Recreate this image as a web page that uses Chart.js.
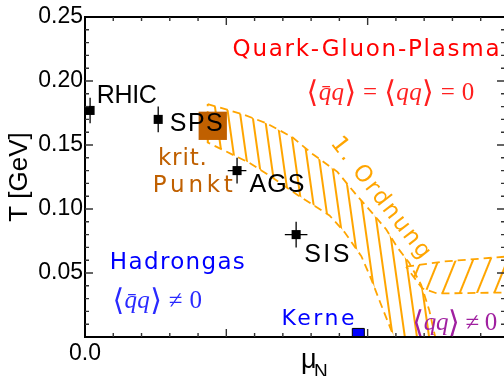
<!DOCTYPE html>
<html><head><meta charset="utf-8">
<script src="https://cdn.jsdelivr.net/npm/chart.js@4.4.1/dist/chart.umd.min.js"></script>
<style>
html,body{margin:0;padding:0;overflow:hidden;background:#fff;width:504px;height:376px}
#wrap{width:508px;height:376px}
</style>
</head><body><div id="wrap"><canvas id="c" width="508" height="376"></canvas></div>
<script>
// ---------- data (mu_N in GeV, T in GeV) ----------
const experiments   = ['RHIC', 'SPS', 'AGS', 'SIS'];
const expMu         = [0.018, 0.259, 0.538, 0.747];
const expT          = [0.177, 0.170, 0.130, 0.080];
const expMuErr      = [0.000, 0.000, 0.033, 0.040];
const expTErr       = [0.010, 0.010, 0.010, 0.010];
const critMu        = [0.452];
const critT         = [0.165];
const nucleiMu      = [0.967];
const nucleiT       = [0.002];
// first-order transition band (closed outline)
const firstOrderMu  = [0.434,0.558,0.642,0.734,0.805,0.893,0.960,1.016,1.066,1.105,1.147,1.189,1.218,1.239,1.094,1.084,1.048,1.013,0.978,0.918,0.865,0.752,0.660,0.582,0.434,0.434];
const firstOrderT   = [0.182,0.174,0.167,0.156,0.143,0.129,0.111,0.097,0.084,0.070,0.058,0.041,0.021,0.000,0.000,0.005,0.025,0.045,0.063,0.082,0.095,0.111,0.125,0.136,0.152,0.182];
// colour-superconducting transition band (closed outline)
const colorSupMu    = [1.136,1.271,1.560,1.560,1.246,1.193,1.136];
const colorSupT     = [0.055,0.059,0.064,0.035,0.034,0.038,0.055];
// axis ticks
const yTickValues   = [0.05, 0.10, 0.15, 0.20, 0.25];
const yTickLabels   = ['0.05', '0.10', '0.15', '0.20', '0.25'];
const xTickValues   = [0.0];
const xTickLabels   = ['0.0'];

const pts = (xs, ys) => xs.map((x, i) => ({x, y: ys[i]}));

const canvas = document.getElementById('c');
const ctx0 = canvas.getContext('2d');
function hatch(spacing, angle, color, lw) {
  const t = document.createElement('canvas');
  t.width = spacing; t.height = spacing;
  const g = t.getContext('2d');
  g.strokeStyle = color; g.lineWidth = lw;
  g.beginPath(); g.moveTo(spacing / 2, -1); g.lineTo(spacing / 2, spacing + 1); g.stroke();
  const p = ctx0.createPattern(t, 'repeat');
  if (p.setTransform) p.setTransform(new DOMMatrix().rotate(angle));
  return p;
}
const ORANGE = '#ffa500';

// ---------- text annotations (data-coordinate anchors) ----------
const SANS = "'DejaVu Sans'";
const HELV = "'Liberation Sans'";
const MATHF = "'Liberation Serif', 'DejaVu Serif', 'DejaVu Sans'";
const BRKF = "'DejaVu Sans', 'DejaVu Serif'";
const plainLabels = [
  {text: 'Quark-Gluon-Plasma', mu: 0.522, T: 0.2195, size: 23, fam: SANS, width: 267, color: '#ff0000'},
  {text: 'krit.',  mu: 0.258, T: 0.134, size: 23, fam: SANS, width: 49, color: '#c06000'},
  {text: 'Punkt',  mu: 0.240, T: 0.113, size: 23, fam: SANS, width: 80, color: '#c06000'},
  {text: 'Hadrongas', mu: 0.088, T: 0.053, size: 23, fam: SANS, width: 135, color: '#0000ff'},
  {text: 'Kerne',  mu: 0.695, T: 0.0094, size: 22, fam: SANS, width: 73, color: '#0000ff'}
];
const expLabelPos = [
  {mu: 0.042, T: 0.183, width: 60},
  {mu: 0.300, T: 0.161, width: 53},
  {mu: 0.582, T: 0.113, width: 55},
  {mu: 0.776, T: 0.0586, width: 45}
];
// segment: [text, kind (0 upright, 1 italic, 2 bracket)]
const mathLabels = [
  {segs: [['⟨',2],['q\u0304q',1],['⟩',2],[' = ',0],['⟨',2],['qq',1],['⟩',2],[' = 0',0]], mu: 0.784, T: 0.185, size: 25, width: 168, color: '#ff2020'},
  {segs: [['⟨',2],['q\u0304q',1],['⟩',2],[' ≠ 0',0]], mu: 0.097, T: 0.0227, size: 25, width: 90, color: '#2a2aff'},
  {segs: [['⟨',2],['qq',1],['⟩',2],[' ≠ 0',0]], mu: 1.158, T: 0.0055, size: 25, width: 85, color: '#a020a0'}
];
const rotLabel = {text: '1. Ordnung', mu: 1.047, T: 0.108, angle: 52, size: 23, width: 148, color: ORANGE};

function fitText(ctx, text, x, y, font, width) {
  ctx.font = font;
  ctx.letterSpacing = '0px';
  const w = ctx.measureText(text).width;
  const n = [...text].length;
  const ls = n > 1 ? (width - w) / (n - 1) : 0;
  ctx.letterSpacing = ls.toFixed(2) + 'px';
  ctx.fillText(text, x, y);
  ctx.letterSpacing = '0px';
}
function drawMath(ctx, m, x, y) {
  const fonts = m.segs.map(s => s[1] === 2 ? '200 ' + (m.size * 1.2).toFixed(1) + 'px ' + BRKF
                                           : (s[1] ? 'italic ' : '') + m.size + 'px ' + MATHF);
  ctx.letterSpacing = '0px';
  let total = 0, nchar = 0;
  m.segs.forEach((s, i) => { ctx.font = fonts[i]; total += ctx.measureText(s[0]).width; nchar += [...s[0]].length; });
  const ls = (m.width - total) / Math.max(1, nchar - 1);
  let cx = x;
  m.segs.forEach((s, i) => {
    ctx.font = fonts[i];
    ctx.letterSpacing = ls.toFixed(2) + 'px';
    ctx.fillText(s[0], cx, y + (s[1] === 2 ? 2 : 0));
    cx += ctx.measureText(s[0]).width;
  });
  ctx.letterSpacing = '0px';
}

const decor = {
  id: 'decor',
  afterDatasetsDraw(chart) {
    const ctx = chart.ctx, xs = chart.scales.x, ys = chart.scales.y, a = chart.chartArea;
    ctx.save();
    // error bars
    ctx.strokeStyle = '#000'; ctx.lineWidth = 1.3;
    experiments.forEach((n, i) => {
      const px = xs.getPixelForValue(expMu[i]), py = ys.getPixelForValue(expT[i]);
      ctx.beginPath();
      ctx.moveTo(px, ys.getPixelForValue(expT[i] - expTErr[i]));
      ctx.lineTo(px, ys.getPixelForValue(expT[i] + expTErr[i]));
      if (expMuErr[i] > 0) {
        ctx.moveTo(xs.getPixelForValue(expMu[i] - expMuErr[i]), py);
        ctx.lineTo(xs.getPixelForValue(expMu[i] + expMuErr[i]), py);
      }
      ctx.stroke();
    });
    // frame
    ctx.strokeStyle = '#000'; ctx.lineWidth = 2;
    ctx.strokeRect(a.left, a.top, a.right - a.left, a.bottom - a.top);
    // inward ticks
    ctx.strokeStyle = '#333'; ctx.lineWidth = 1.4;
    ctx.beginPath();
    for (let k = 1; k < 25; k++) {
      const py = ys.getPixelForValue(k / 100), L = (k % 5 === 0) ? 8 : 4;
      ctx.moveTo(a.left, py); ctx.lineTo(a.left + L, py);
      ctx.moveTo(a.right, py); ctx.lineTo(a.right - L, py);
    }
    for (let k = 1; k < 15; k++) {
      const px = xs.getPixelForValue(k / 10), L = (k % 5 === 0) ? 8 : 4;
      ctx.moveTo(px, a.bottom); ctx.lineTo(px, a.bottom - L);
      ctx.moveTo(px, a.top); ctx.lineTo(px, a.top + L);
    }
    ctx.stroke();
    // labels
    ctx.textBaseline = 'alphabetic'; ctx.textAlign = 'left';
    plainLabels.forEach(l => {
      ctx.fillStyle = l.color;
      fitText(ctx, l.text, xs.getPixelForValue(l.mu), ys.getPixelForValue(l.T), l.size + 'px ' + l.fam, l.width);
    });
    ctx.fillStyle = '#000';
    experiments.forEach((n, i) => {
      const p = expLabelPos[i];
      fitText(ctx, n, xs.getPixelForValue(p.mu), ys.getPixelForValue(p.T), '25px ' + HELV, p.width);
    });
    mathLabels.forEach(m => {
      ctx.fillStyle = m.color;
      drawMath(ctx, m, xs.getPixelForValue(m.mu), ys.getPixelForValue(m.T));
    });
    // rotated label
    ctx.save();
    ctx.translate(xs.getPixelForValue(rotLabel.mu), ys.getPixelForValue(rotLabel.T));
    ctx.rotate(rotLabel.angle * Math.PI / 180);
    ctx.textAlign = 'center'; ctx.textBaseline = 'middle';
    ctx.fillStyle = rotLabel.color;
    fitText(ctx, rotLabel.text, 0, 0, rotLabel.size + 'px ' + SANS, rotLabel.width);
    ctx.restore();
    // x-axis title  mu_N
    ctx.fillStyle = '#000'; ctx.textAlign = 'left'; ctx.textBaseline = 'alphabetic';
    ctx.font = '27px ' + HELV;
    ctx.fillText('μ', 301, 368);
    ctx.font = '19px ' + HELV;
    ctx.fillText('N', 314, 377);
    ctx.restore();
  }
};

new Chart(canvas, {
  type: 'scatter',
  data: {
    datasets: [
      {label: 'Experimente', data: pts(expMu, expT), pointStyle: 'rect', pointRadius: 6.4,
       pointBackgroundColor: '#000', pointBorderWidth: 0, order: 1},
      {label: 'Kerne', data: pts(nucleiMu, nucleiT), pointStyle: 'rect', pointRadius: 8.5,
       pointBackgroundColor: '#0000ff', pointBorderColor: '#000', pointBorderWidth: 1, order: 2},
      {label: 'krit. Punkt', data: pts(critMu, critT), pointStyle: 'rect', pointRadius: 20,
       pointBackgroundColor: '#c06000', pointBorderWidth: 0, order: 3},
      {label: '1. Ordnung', data: pts(firstOrderMu, firstOrderT), showLine: true, tension: 0,
       pointRadius: 0, borderColor: ORANGE, borderWidth: 1.8, borderDash: [8, 5],
       fill: 'shape', backgroundColor: hatch(12, -8, ORANGE, 2), order: 5},
      {label: 'Farbsupraleitung', data: pts(colorSupMu, colorSupT), showLine: true, tension: 0,
       pointRadius: 0, borderColor: ORANGE, borderWidth: 1.8, borderDash: [8, 5],
       fill: 'shape', backgroundColor: hatch(16, 22, ORANGE, 2), order: 4}
    ]
  },
  options: {
    responsive: false, animation: false,
    layout: {autoPadding: false, padding: {left: 0, top: 17, right: 2, bottom: 0}},
    plugins: {legend: {display: false}, tooltip: {enabled: false}},
    scales: {
      x: {
        type: 'linear', min: 0, max: 1.486,
        ticks: {stepSize: 0.5, autoSkip: false, maxRotation: 0, padding: 3, color: '#000',
          font: {family: 'Liberation Sans', size: 23},
          callback: v => { const i = xTickValues.findIndex(t => Math.abs(t - v) < 1e-9); return i >= 0 ? xTickLabels[i] : ''; }},
        grid: {display: false, drawTicks: false}, border: {display: false},
        afterFit(s) { s.height = 39; }
      },
      y: {
        min: 0, max: 0.25,
        ticks: {stepSize: 0.05, padding: 2, color: '#000', font: {family: 'Liberation Sans', size: 23},
          callback: v => { const i = yTickValues.findIndex(t => Math.abs(t - v) < 1e-9); return i >= 0 ? yTickLabels[i] : ''; }},
        grid: {display: false, drawTicks: false}, border: {display: false},
        title: {display: true, text: 'T [GeV]', color: '#000', font: {family: 'Liberation Sans', size: 26}, padding: {top: 4, bottom: 0}},
        afterFit(s) { s.width = 85; }
      }
    }
  },
  plugins: [decor]
});
</script>
</body></html>
